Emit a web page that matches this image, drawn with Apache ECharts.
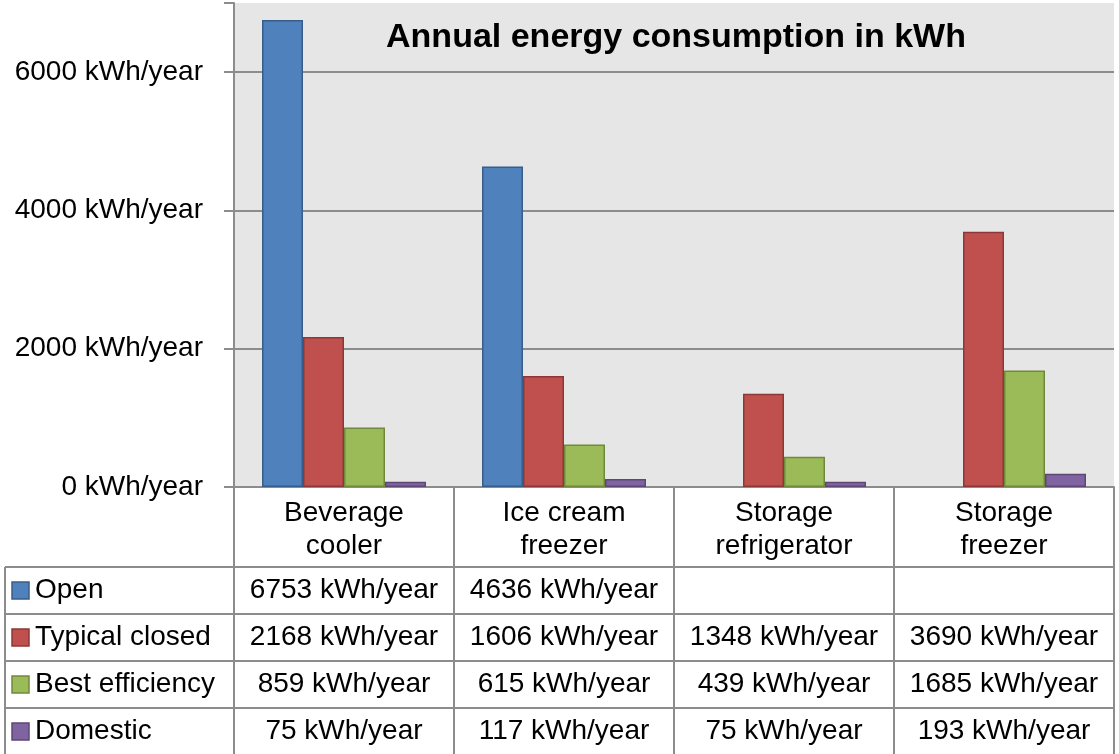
<!DOCTYPE html>
<html>
<head>
<meta charset="utf-8">
<script src="https://cdn.jsdelivr.net/npm/echarts@6/dist/echarts.min.js"></script>
<style>
  html, body { margin: 0; padding: 0; background: #fff; }
  #chart { width: 1119px; height: 754px; }
</style>
</head>
<body>
<div id="chart"></div>
<script>
// 数据
const categories = ["Beverage\ncooler", "Ice cream\nfreezer", "Storage\nrefrigerator", "Storage\nfreezer"];
const seriesNames = ["Open", "Typical closed", "Best efficiency", "Domestic"];
const openData = [6753, 4636, null, null];
const closedData = [2168, 1606, 1348, 3690];
const bestData = [859, 615, 439, 1685];
const domesticData = [75, 117, 75, 193];
const yTicks = [0, 2000, 4000, 6000];

const allData = [openData, closedData, bestData, domesticData];
const fills = ["#4f81bd", "#c0504d", "#9bbb59", "#8064a2"];
const borders = ["#385d8a", "#8c3836", "#71893f", "#5c4776"];

const FONT = '"Liberation Sans", Arial, sans-serif';
const gridColor = "#8c8c8c";
// 绘图区位置
const plotLeft = 234, plotTop = 3, plotRight = 1114, zeroY = 487;
const colW = (plotRight - plotLeft) / categories.length;
const headerBottom = 567, rowH = 47, tableLeft = 5;

function unit(v) {
  return v + " kWh/year";
}

// 底部数据表
function buildTable() {
  const els = [];
  const line = (x1, y1, x2, y2) => els.push({
    type: "line", silent: true, z: 10,
    shape: { x1: x1, y1: y1, x2: x2, y2: y2 },
    style: { stroke: gridColor, lineWidth: 2 }
  });
  const text = (x, y, t, align) => els.push({
    type: "text", silent: true, z: 11, x: x, y: y,
    style: { text: t, fill: "#000", font: "28px " + FONT, align: align || "center", verticalAlign: "middle", lineHeight: 33 }
  });
  // 竖线
  for (let i = 0; i <= categories.length; i++) {
    line(plotLeft + colW * i, zeroY, plotLeft + colW * i, 754);
  }
  line(tableLeft, headerBottom, tableLeft, 754);
  // 横线
  for (let r = 0; r < seriesNames.length; r++) {
    line(tableLeft, headerBottom + rowH * r, plotRight, headerBottom + rowH * r);
  }
  // 类别表头
  categories.forEach((c, i) => text(plotLeft + colW * (i + 0.5), (zeroY + headerBottom) / 2 + 3, c));
  // 每行
  seriesNames.forEach((name, r) => {
    const cy = headerBottom + rowH * (r + 0.5);
    els.push({
      type: "rect", silent: true, z: 11,
      shape: { x: 12, y: cy - 8.5, width: 17, height: 17 },
      style: { fill: fills[r], stroke: borders[r], lineWidth: 1.5 }
    });
    text(35, cy, name, "left");
    allData[r].forEach((v, i) => {
      if (v != null) text(plotLeft + colW * (i + 0.5), cy, unit(v));
    });
  });
  return els;
}

const myChart = echarts.init(document.getElementById("chart"));
const option = {
  animation: false,
  backgroundColor: "#fff",
  title: {
    text: "Annual energy consumption in kWh",
    left: 671,
    top: 16,
    textAlign: "center",
    textStyle: { fontFamily: FONT, fontSize: 34, fontWeight: "bold", color: "#000" }
  },
  grid: {
    left: plotLeft, top: plotTop, right: 1119 - plotRight, bottom: 754 - zeroY,
    show: true, backgroundColor: "#e6e6e6", borderWidth: 0,
    containLabel: false
  },
  xAxis: {
    type: "category",
    data: categories,
    axisLine: { show: true, lineStyle: { color: gridColor, width: 2 } },
    axisTick: { show: false },
    axisLabel: { show: false }
  },
  yAxis: {
    type: "value",
    min: 0,
    max: 7000,
    interval: 2000,
    axisLine: { show: true, lineStyle: { color: gridColor, width: 2 } },
    axisTick: { show: true, length: 10, lineStyle: { color: gridColor, width: 2 } },
    axisLabel: {
      margin: 31,
      color: "#000",
      fontFamily: FONT,
      fontSize: 28,
      formatter: v => (yTicks.indexOf(v) >= 0 ? unit(v) : "")
    },
    splitLine: {
      show: true,
      lineStyle: { color: [gridColor, gridColor, gridColor, gridColor, "transparent"], width: 2 }
    }
  },
  series: seriesNames.map((name, i) => ({
    name: name,
    type: "bar",
    data: allData[i],
    barWidth: 41,
    barGap: "0%",
    itemStyle: { color: fills[i], borderColor: borders[i], borderWidth: 1.5 }
  })),
  graphic: buildTable()
};
myChart.setOption(option);
window.addEventListener("resize", () => {
  myChart.resize();
});
</script>
</body>
</html>
